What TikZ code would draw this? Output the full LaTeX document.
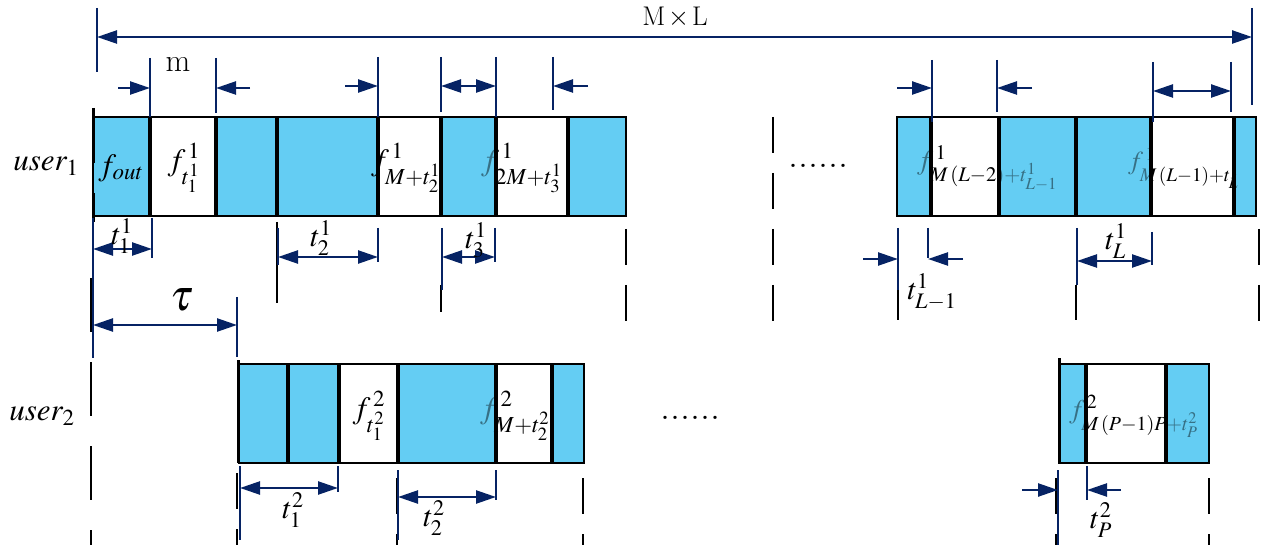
\documentclass[tikz,border=0pt]{standalone}
\usepackage{mathptmx}
\usetikzlibrary{arrows.meta}
\definecolor{cyanB}{RGB}{100,205,243}
\definecolor{navy}{RGB}{6,35,100}
\tikzset{
  boxline/.style={draw=black, line width=2.2pt},
  sepline/.style={draw=black, line width=3.4pt},
  dimline/.style={draw=navy, line width=2.4pt},
  tickline/.style={draw=navy, line width=2pt},
  dashv/.style={draw=black, line width=2.6pt, dash pattern=on 36pt off 20pt},
  dashlong/.style={draw=black, line width=2.6pt, dash pattern=on 54pt off 30pt},
  arr/.style={dimline, -{Triangle[length=20pt,width=13pt]}},
  darr/.style={dimline, {Triangle[length=20pt,width=13pt]}-{Triangle[length=20pt,width=13pt]}},
  lbl/.style={font=\fontsize{31}{33}\selectfont, inner sep=0pt},
  lbls/.style={font=\fontsize{28}{30}\selectfont, inner sep=0pt},
  dlbl/.style={font=\fontsize{30}{32}\selectfont, inner sep=0pt},
  dots/.style={font=\bfseries\fontsize{40}{40}\selectfont, inner sep=0pt},
}
\begin{document}
\begin{tikzpicture}[x=1pt,y=-1pt]
\useasboundingbox (0,0) rectangle (1266,545);

% ---------- blue fills ----------
\foreach \a/\b in {93/150,216/277,277/378,441/496,568/626,897/931,999/1076,1076/1151,1234/1256}
  \fill[cyanB] (\a,117) rectangle (\b,216);
\foreach \a/\b in {239/288,288/339,398/496,552/584,1059/1086,1166/1209}
  \fill[cyanB] (\a,364) rectangle (\b,463);

% ---------- frame labels ----------
\node[lbl] (u1) at (46,166) {$user_1$};
\node[lbl] (u2) at (42,416) {$user_2$};
\node[lbl] (fout) at (121,168) {$f_{out}$};
\node[lbl] (f11) at (184,168) {$f^{\,1}_{t^1_1}$};
\node[lbl, anchor=west] (f12) at (371,168) {$f^{\,1}_{M+t^1_2}$};
\node[lbl, anchor=west] (f13) at (481,168) {$f^{\,1}_{2M+t^1_3}$};
\node[lbls, anchor=west] (f1L1) at (917,168) {$f^{\,1}_{M\,(L{-}2){+}t^1_{L-1}}$};
\node[lbls, anchor=west, font=\fontsize{26}{28}\selectfont] (f1L) at (1128,168) {$f^{\,1}_{M\,(L{-}1){+}t^1_L}$};
\node[lbl] (f21) at (369,416) {$f^{\,2}_{t^2_1}$};
\node[lbl, anchor=west] (f22) at (480,416) {$f^{\,2}_{M+t^2_2}$};
\node[lbls, anchor=west, font=\fontsize{27}{29}\selectfont] (f2P) at (1069,416) {$f^{\,2}_{M\,(P{-}1)P{+}t^2_P}$};

% ---------- blue veil over text inside blue frames ----------
\foreach \a/\b in {441/496,897/931,999/1076,1076/1151,1234/1256}
  \fill[cyanB, fill opacity=0.55] (\a,117) rectangle (\b,216);
\foreach \a/\b in {398/496,1059/1086,1166/1209}
  \fill[cyanB, fill opacity=0.55] (\a,364) rectangle (\b,463);

% ---------- frame outlines ----------
\draw[boxline] (93,117) rectangle (626,216);
\foreach \x in {150,216,277,378,441,496,568} \draw[sepline] (\x,117) -- (\x,216);
\draw[boxline] (897,117) rectangle (1256,216);
\foreach \x in {931,999,1076,1151,1234} \draw[sepline] (\x,117) -- (\x,216);
\draw[boxline] (239,364) rectangle (584,463);
\foreach \x in {288,339,398,496,552} \draw[sepline] (\x,364) -- (\x,463);
\draw[boxline] (1059,364) rectangle (1209,463);
\foreach \x in {1086,1166} \draw[sepline] (\x,364) -- (\x,463);

% ---------- black dashed verticals ----------
\draw[black, line width=3pt] (93,108) -- (93,163) (93,193) -- (93,222);
\draw[dashlong] (91,278) -- (91,545);
\draw[dashv] (626,117) -- (626,321);
\draw[dashv] (773,117) -- (773,321);
\draw[dashv] (1259,229) -- (1259,321);
\draw[black, line width=2.6pt] (277,222) -- (277,303);
\draw[black, line width=2.6pt] (441,285) -- (441,312);
\draw[black, line width=2.6pt] (898,285) -- (898,320) (1076,285) -- (1076,320);
\draw[black, line width=3pt] (238,360) -- (238,463);
\draw[dashv] (237,473) -- (237,545);
\draw[dashv] (397,478) -- (397,545);
\draw[dashv] (583,478) -- (583,545);
\draw[dashv] (1056,478) -- (1056,545);
\draw[dashv] (1209,478) -- (1209,545);
\draw[black, line width=3pt] (1059,358) -- (1059,463);

% ---------- overall M x L ----------
\draw[tickline] (97,8) -- (97,72);
\draw[tickline] (1252,8) -- (1252,105);
\draw[darr] (97,37) -- (1252,37);
\node[font=\fontsize{27}{29}\selectfont, inner sep=0pt] (ML) at (675,17) {M$\,\times\,$L};

% ---------- upper dimension marks, user 1 ----------
\draw[tickline] (150,58) -- (150,117);
\draw[tickline] (216,58) -- (216,113);
\draw[arr] (118,88) -- (150,88);
\draw[arr] (250,88) -- (216,88);
\node[font=\fontsize{32}{34}\selectfont, inner sep=0pt] (mlab) at (178,64) {m};
\draw[tickline] (378,57) -- (378,117);
\draw[arr] (345,86) -- (378,86);
\draw[tickline] (441,57) -- (441,112);
\draw[tickline] (496,57) -- (496,117);
\draw[darr] (441,86) -- (496,86);
\draw[tickline] (553,57) -- (553,110);
\draw[arr] (588,86) -- (553,86);
\draw[tickline] (932,60) -- (932,122);
\draw[arr] (897,88) -- (932,88);
\draw[tickline] (997,60) -- (997,112);
\draw[arr] (1032,88) -- (997,88);
\draw[tickline] (1153,62) -- (1153,122);
\draw[tickline] (1231,62) -- (1231,112);
\draw[darr] (1153,91) -- (1231,91);

% ---------- lower dimension marks, user 1 ----------
\draw[tickline] (93,218) -- (93,358);
\draw[tickline] (152,218) -- (152,258);
\draw[darr] (93,249) -- (152,249);
\node[dlbl] (t11) at (122,236) {$t^1_1$};
\draw[tickline] (278,228) -- (278,265);
\draw[tickline] (378,228) -- (378,262);
\draw[darr] (278,257) -- (378,257);
\node[dlbl] (t12) at (321,238) {$t^1_2$};
\draw[tickline] (442,228) -- (442,290);
\draw[tickline] (495,228) -- (495,262);
\draw[darr] (442,257) -- (495,257);
\node[dlbl] (t13) at (476,240) {$t^1_3$};
\draw[tickline] (898,228) -- (898,290);
\draw[tickline] (928,228) -- (928,258);
\draw[arr] (863,259) -- (898,259);
\draw[arr] (963,259) -- (928,259);
\node[dlbl] (t1L1) at (932,292) {$t^1_{L-1}$};
\draw[tickline] (1077,228) -- (1077,285);
\draw[tickline] (1152,232) -- (1152,265);
\draw[darr] (1077,261) -- (1152,261);
\node[dlbl] (t1L) at (1116,241) {$t^1_L$};

% ---------- tau ----------
\draw[tickline] (237,297) -- (237,357);
\draw[darr] (93,325) -- (237,325);
\node[font=\fontsize{44}{46}\selectfont, inner sep=0pt] (tau) at (182,300) {$\tau$};

% ---------- lower dimension marks, user 2 ----------
\draw[tickline] (240,466) -- (240,540);
\draw[tickline] (338,466) -- (338,492);
\draw[darr] (240,488) -- (338,488);
\node[dlbl] (t21) at (293,510) {$t^2_1$};
\draw[tickline] (398,470) -- (398,540);
\draw[tickline] (496,470) -- (496,500);
\draw[darr] (398,497) -- (496,497);
\node[dlbl] (t22) at (434,518) {$t^2_2$};
\draw[tickline] (1058,470) -- (1058,545);
\draw[tickline] (1087,466) -- (1087,500);
\draw[arr] (1022,490) -- (1058,490);
\draw[arr] (1121,490) -- (1087,490);
\node[dlbl] (t2P) at (1101,520) {$t^2_P$};

% ---------- ellipses ----------
\node[dots] (dots1) at (818,166) {......};
\node[dots] (dots2) at (690,418) {......};
\end{tikzpicture}
\end{document}
